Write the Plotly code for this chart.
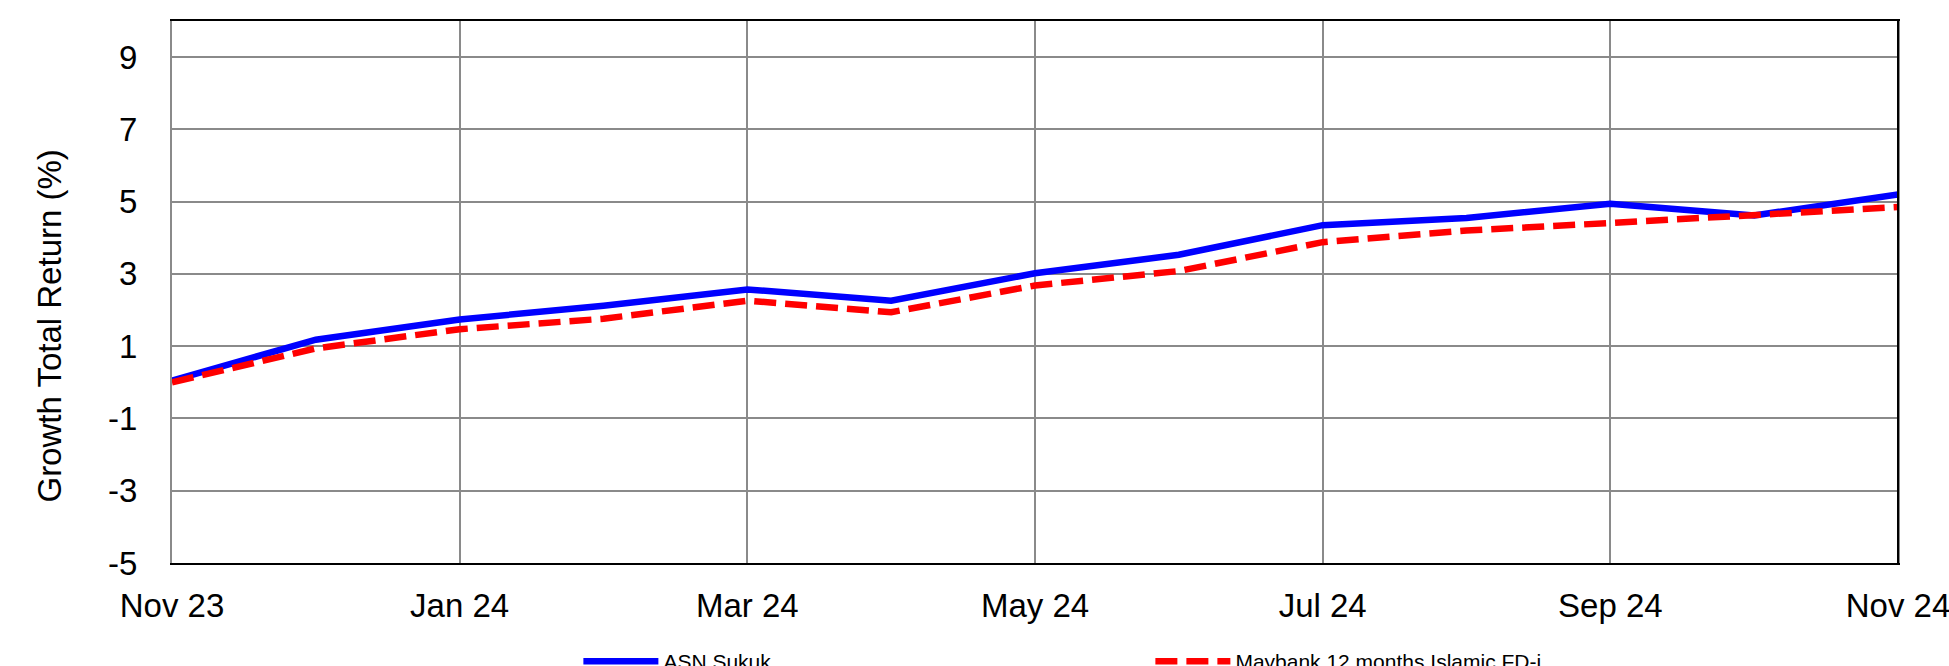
import plotly.graph_objects as go

months = ["Nov 23", "Dec 23", "Jan 24", "Feb 24", "Mar 24", "Apr 24", "May 24",
          "Jun 24", "Jul 24", "Aug 24", "Sep 24", "Oct 24", "Nov 24"]
asn_sukuk = [0.05, 1.18, 1.74, 2.12, 2.57, 2.26, 3.02, 3.53, 4.35, 4.55, 4.94, 4.62, 5.20]
maybank_fd = [0.0, 0.94, 1.47, 1.76, 2.26, 1.94, 2.68, 3.08, 3.88, 4.20, 4.41, 4.62, 4.85]
x_ticks = ["Nov 23", "Jan 24", "Mar 24", "May 24", "Jul 24", "Sep 24", "Nov 24"]
y_ticks = [-5, -3, -1, 1, 3, 5, 7, 9]
y_tick_labels = ["-5", "-3", "-1", "1", "3", "5", "7", "9"]

W, H = 1949, 666
L, R, T, B = 171.5, 1898, 21, 563

fig = go.Figure()
fig.add_trace(go.Scatter(x=months, y=asn_sukuk, mode="lines", name="ASN Sukuk",
                         line=dict(color="#0000FF", width=6.5)))
fig.add_trace(go.Scatter(x=months, y=maybank_fd, mode="lines",
                         name="Maybank 12 months Islamic FD-i",
                         line=dict(color="#FF0000", width=6.5, dash="22px,9px")))

font_family = "Liberation Sans, Arial, sans-serif"
grid_col = "#8a8a8a"
fs = 33

fig.update_layout(
    width=W, height=H,
    margin=dict(l=L, r=W - R, t=T, b=H - B, autoexpand=False),
    paper_bgcolor="white", plot_bgcolor="white",
    font=dict(family=font_family, color="black", size=fs),
    showlegend=True,
    legend=dict(orientation="h", x=(578 - L) / (R - L), xanchor="left",
                y=-(641 - B) / (B - T), yanchor="top",
                font=dict(size=21, family=font_family), itemwidth=75,
                entrywidth=482, bgcolor="rgba(0,0,0,0)", borderwidth=0),
    xaxis=dict(type="category", categoryorder="array", categoryarray=months,
               range=[0, len(months) - 1], tickmode="array", tickvals=x_ticks,
               ticktext=x_ticks, showgrid=True, gridcolor=grid_col, gridwidth=2,
               showline=True, linecolor="black", linewidth=2, mirror=True,
               ticks="", ticklabelstandoff=12, tickfont=dict(size=fs)),
    yaxis=dict(range=[-5, 10], tickmode="array", tickvals=y_ticks,
               ticktext=y_tick_labels,
               showgrid=True, gridcolor=grid_col, gridwidth=2, zeroline=False,
               showline=True, linecolor=grid_col, linewidth=2, mirror=True,
               ticks="", ticklabelstandoff=26, tickfont=dict(size=fs)),
    annotations=[dict(text="Growth Total Return (%)", textangle=-90,
                      xref="paper", yref="paper",
                      x=(48 - L) / (R - L), y=(B - 326) / (B - T),
                      xanchor="center", yanchor="middle", showarrow=False,
                      font=dict(size=fs, family=font_family))],
    shapes=[dict(type="line", xref="paper", yref="paper", x0=1, x1=1, y0=0, y1=1,
                 line=dict(color="black", width=2))],
)

fig.write_html("out.html", config={"displayModeBar": False},
               post_script="document.body.style.margin='0';"
                           "document.body.style.overflow='hidden';")
